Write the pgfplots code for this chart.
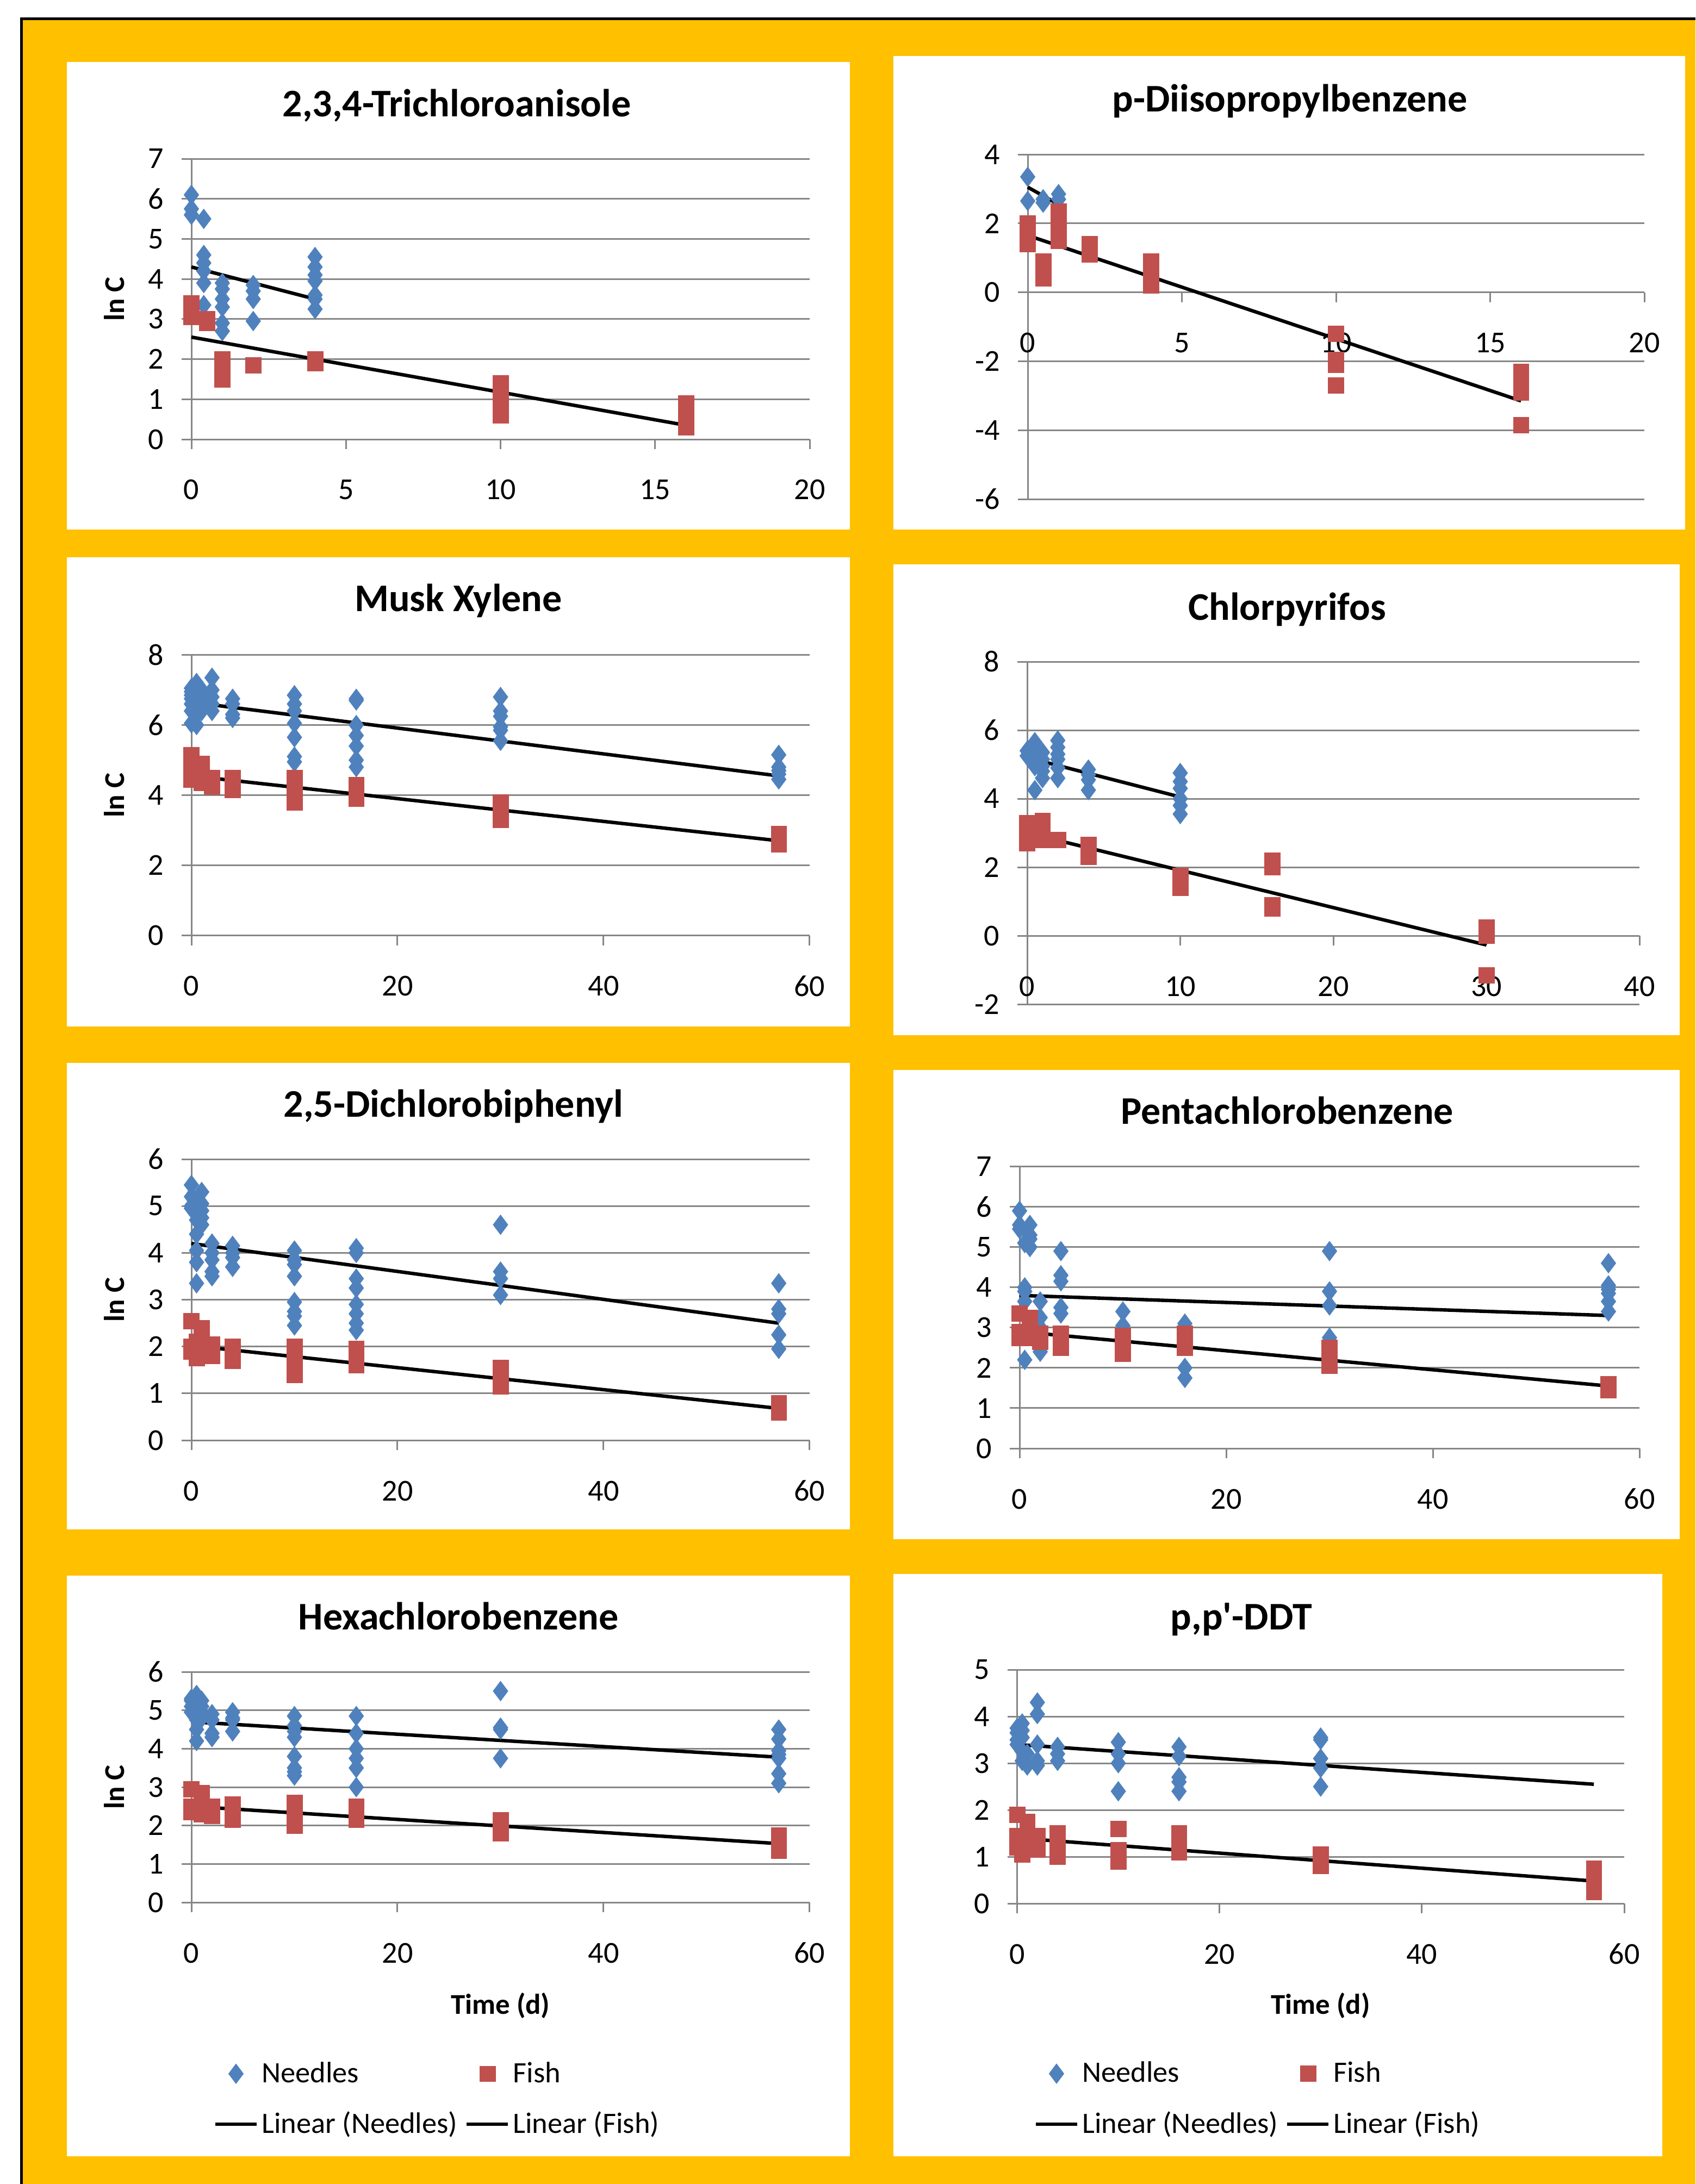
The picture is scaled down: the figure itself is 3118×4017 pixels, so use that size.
\documentclass[border=0pt]{standalone}
\usepackage{fontspec}
\setmainfont{Carlito}
\usepackage{pgfplots}
\pgfplotsset{compat=1.18}
\definecolor{excelorange}{HTML}{FFC000}
\definecolor{needle}{HTML}{4F81BD}
\definecolor{fish}{HTML}{C0504D}
\definecolor{gridgray}{HTML}{868686}
\newcommand\ticksize{\fontsize{14}{16.8}\selectfont}
\newcommand\titlesize{\bfseries\fontsize{18}{21.6}\selectfont}
\newcommand\labsize{\bfseries\fontsize{13.2}{15.8}\selectfont}
\newcommand\legsize{\fontsize{13.6}{16.3}\selectfont}
\pgfplotsset{
  excel/.style={
    scale only axis, anchor=south west,
    axis x line*=middle, axis y line*=left,
    axis line style={draw=gridgray, line width=0.75pt},
    ymajorgrids, grid style={draw=gridgray, line width=0.75pt},
    tick align=outside, major tick length=4.5pt, minor tick num=0,
    tick style={draw=gridgray, line width=0.75pt},
    hide obscured x ticks=false, hide obscured y ticks=false,
    tick label style={font=\ticksize, inner sep=0pt},
    /pgf/number format/assume math mode=true,
    xticklabel style={anchor=center, yshift=-18.75pt},
    yticklabel style={anchor=east, xshift=-8pt},
    clip=false, xmin=0,
  },
  nd/.style={only marks, mark=diamond*, mark size=4.6pt, color=needle, mark options={line width=0.1pt},
    legend image code/.code={\path (0pt,-1pt) (19pt,1pt); \draw[##1] plot coordinates {(9.5pt,0pt)};}},
  fs/.style={only marks, mark=square*, mark size=3.6pt, color=fish, mark options={line width=0.1pt},
    legend image code/.code={\path (0pt,-1pt) (19pt,1pt); \draw[##1] plot coordinates {(9.5pt,0pt)};}},
  fit/.style={black, line width=1.6pt, no marks,
    legend image code/.code={\draw[##1] (0pt,0pt) -- (19pt,0pt);}},
  leftpanel/.style={ylabel={ln C}, ylabel style={font=\labsize, at={(axis description cs:-0.125,0.5)}, anchor=center}},
  legpanel/.style 2 args={
    xlabel={Time (d)}, xlabel style={font=\labsize, at={(axis description cs:0.5,#2)}, anchor=center},
    legend columns=2, legend cell align=left,
    legend style={draw=none, fill=none, at={(axis description cs:#1)}, anchor=west, font=\legsize,
      inner sep=0pt, nodes={inner sep=0pt}, column sep=1.5pt, row sep=12pt,
      /tikz/every even column/.append style={column sep=3.5pt}}},
}
\begin{document}
\begin{tikzpicture}
\begin{scope}[x=0.25pt,y=-0.25pt]
\useasboundingbox (0,0) rectangle (3118,4017);
\fill[white] (0,0) rectangle (3118,4017);
\fill[excelorange] (39.5,34.5) rectangle (3118,4017);
\draw[black, line width=1.25pt] (39.5,4017) -- (39.5,34.5) -- (3118,34.5);
\fill[white] (123,114) rectangle (1563,974);
\fill[white] (1643,103) rectangle (3099,974);
\fill[white] (123,1025) rectangle (1563,1888);
\fill[white] (1643,1038) rectangle (3089,1904);
\fill[white] (123,1955) rectangle (1563,2813);
\fill[white] (1643,1968) rectangle (3089,2831);
\fill[white] (123,2898) rectangle (1563,3966);
\fill[white] (1643,2895) rectangle (3057,3966);
\end{scope}

% Panel 1: 2,3,4-Trichloroanisole
\begin{axis}[excel, leftpanel, at={(88pt,-202pt)}, width=284.25pt, height=129pt,
  xmax=20, ymin=0, ymax=7, xtick={0,5,10,15,20}, ytick={0,1,...,7}]
\addplot[nd] coordinates {(0,6.1)(0,5.75)(0,5.6)
(0.4,5.5)(0.4,4.6)(0.4,4.4)(0.4,4.2)(0.4,3.9)(0.4,3.35)
(1,3.9)(1,3.75)(1,3.5)(1,3.3)(1,2.9)(1,2.7)
(2,3.85)(2,3.7)(2,3.5)(2,2.95)
(4,4.55)(4,4.3)(4,4.1)(4,3.95)(4,3.6)(4,3.5)(4,3.25)};
\addplot[fs] coordinates {(0,3.4)(0,3.3)(0,3.15)(0,3.05)
(0.5,3.0)(0.5,2.9)
(1,2.0)(1,1.8)(1,1.6)(1,1.5)
(2,1.85)
(4,2.0)(4,1.9)
(10,1.4)(10,1.2)(10,1.0)(10,0.8)(10,0.6)
(16,0.9)(16,0.7)(16,0.5)(16,0.3)};
\addplot[fit] coordinates {(0,4.3)(4,3.5)};
\addplot[fit] coordinates {(0,2.55)(16,0.35)};
\end{axis}

% Panel 2: p-Diisopropylbenzene
\begin{axis}[excel, at={(472.5pt,-229.5pt)}, width=283.5pt, height=158.5pt,
  xmax=20, ymin=-6, ymax=4, xtick={0,5,10,15,20}, ytick={-6,-4,...,4}]
\addplot[nd] coordinates {(0,3.35)(0,2.65)(0.5,2.7)(0.5,2.6)(1,2.85)(1,2.7)};
\addplot[fs] coordinates {(0,2.0)(0,1.8)(0,1.6)(0,1.4)
(0.5,0.9)(0.5,0.7)(0.5,0.5)(0.5,0.4)
(1,2.35)(1,2.1)(1,1.9)(1,1.7)(1,1.5)
(2,1.4)(2,1.25)(2,1.1)
(4,0.9)(4,0.7)(4,0.5)(4,0.3)(4,0.2)
(10,-1.2)(10,-1.95)(10,-2.1)(10,-2.7)
(16,-2.3)(16,-2.5)(16,-2.7)(16,-2.9)(16,-3.85)};
\addplot[fit] coordinates {(0,3.05)(1,2.55)};
\addplot[fit] coordinates {(0,1.65)(16,-3.15)};
\end{axis}

% Panel 3: Musk Xylene
\begin{axis}[excel, leftpanel, at={(88pt,-430.125pt)}, width=284.25pt, height=129pt,
  xmax=60, ymin=0, ymax=8, xtick={0,20,40,60}, ytick={0,2,...,8}]
\addplot[nd] coordinates {(0,7.05)(0,6.95)(0,6.85)(0,6.75)(0,6.6)(0,6.4)(0,6.05)
(0.5,7.2)(0.5,7.1)(0.5,6.9)(0.5,6.5)(0.5,6.3)(0.5,6.0)
(1,7.0)(1,6.8)(1,6.6)(1,6.4)
(2,7.35)(2,7.0)(2,6.8)(2,6.6)(2,6.4)
(4,6.75)(4,6.6)(4,6.3)(4,6.2)
(10,6.85)(10,6.6)(10,6.4)(10,6.05)(10,5.65)(10,5.1)(10,4.95)
(16,6.75)(16,6.7)(16,6.0)(16,5.7)(16,5.4)(16,5.0)(16,4.8)
(30,6.8)(30,6.4)(30,6.25)(30,5.95)(30,5.85)(30,5.55)
(57,5.15)(57,4.8)(57,4.7)(57,4.6)(57,4.45)};
\addplot[fs] coordinates {(0,5.15)(0,4.9)(0,4.6)(0,4.45)
(1,4.9)(1,4.7)(1,4.5)(1,4.35)
(2,4.5)(2,4.35)(2,4.25)
(4,4.5)(4,4.3)(4,4.15)
(10,4.5)(10,4.3)(10,4.1)(10,3.95)(10,3.8)
(16,4.3)(16,4.1)(16,3.9)
(30,3.8)(30,3.55)(30,3.3)
(57,2.9)(57,2.75)(57,2.6)};
\addplot[fit] coordinates {(0,6.65)(57,4.55)};
\addplot[fit] coordinates {(0,4.55)(57,2.7)};
\end{axis}

% Panel 4: Chlorpyrifos
\begin{axis}[excel, at={(472.25pt,-461.75pt)}, width=281.5pt, height=157.5pt,
  xmax=40, ymin=-2, ymax=8, xtick={0,10,20,30,40}, ytick={-2,0,...,8}]
\addplot[nd] coordinates {(0,5.4)(0,5.25)
(0.5,5.65)(0.5,5.5)(0.5,5.3)(0.5,5.1)(0.5,4.95)(0.5,4.25)
(1,5.35)(1,5.15)(1,4.95)(1,4.8)(1,4.6)
(2,5.7)(2,5.5)(2,5.3)(2,5.15)(2,4.9)(2,4.6)
(4,4.85)(4,4.7)(4,4.55)(4,4.25)
(10,4.75)(10,4.5)(10,4.3)(10,4.0)(10,3.8)(10,3.55)};
\addplot[fs] coordinates {(0,3.3)(0,3.1)(0,2.9)(0,2.7)
(1,3.35)(1,3.2)(1,3.0)(1,2.8)
(2,2.8)
(4,2.65)(4,2.45)(4,2.3)
(10,1.75)(10,1.55)(10,1.4)
(16,2.2)(16,2.0)(16,0.9)(16,0.8)
(30,0.25)(30,0.0)(30,-1.15)};
\addplot[fit] coordinates {(0,5.2)(10,4.05)};
\addplot[fit] coordinates {(0,3.0)(30,-0.27)};
\end{axis}

% Panel 5: 2,5-Dichlorobiphenyl
\begin{axis}[excel, leftpanel, at={(88pt,-662.25pt)}, width=284.25pt, height=129.25pt,
  xmax=60, ymin=0, ymax=6, xtick={0,20,40,60}, ytick={0,1,...,6}]
\addplot[nd] coordinates {(0,5.45)(0,5.2)(0,5.0)(0,4.95)
(0.5,5.1)(0.5,4.7)(0.5,4.4)(0.5,4.05)(0.5,3.8)(0.5,3.35)
(1,5.3)(1,5.05)(1,4.9)(1,4.75)(1,4.6)
(2,4.2)(2,4.0)(2,3.85)(2,3.6)(2,3.5)
(4,4.15)(4,4.0)(4,3.9)(4,3.7)
(10,4.05)(10,3.85)(10,3.75)(10,3.5)(10,2.95)(10,2.75)(10,2.65)(10,2.45)
(16,4.1)(16,4.0)(16,3.45)(16,3.25)(16,2.9)(16,2.7)(16,2.5)(16,2.35)
(30,4.6)(30,3.6)(30,3.45)(30,3.1)
(57,3.35)(57,2.8)(57,2.7)(57,2.25)(57,1.95)};
\addplot[fs] coordinates {(0,2.55)(0,2.0)(0,1.9)
(0.5,2.1)(0.5,1.9)(0.5,1.75)
(1,2.4)(1,2.2)(1,2.1)
(2,2.05)(2,1.9)(2,1.8)
(4,2.0)(4,1.85)(4,1.7)
(10,2.0)(10,1.65)(10,1.5)(10,1.4)
(16,1.95)(16,1.8)(16,1.6)
(30,1.55)(30,1.35)(30,1.15)
(57,0.8)(57,0.65)(57,0.6)};
\addplot[fit] coordinates {(0,4.2)(57,2.5)};
\addplot[fit] coordinates {(0,2.02)(57,0.68)};
\end{axis}

% Panel 6: Pentachlorobenzene
\begin{axis}[excel, at={(468.75pt,-666pt)}, width=285pt, height=129.6pt,
  xmax=60, ymin=0, ymax=7, xtick={0,20,40,60}, ytick={0,1,...,7}]
\addplot[nd] coordinates {(0,5.9)(0,5.55)(0,5.45)
(0.5,5.1)(0.5,4.0)(0.5,3.9)(0.5,3.65)(0.5,2.2)
(1,5.55)(1,5.3)(1,5.2)(1,5.0)
(2,3.65)(2,3.25)(2,3.0)(2,2.4)
(4,4.9)(4,4.3)(4,4.15)(4,3.5)(4,3.35)
(10,3.4)(10,3.05)
(16,3.1)(16,2.0)(16,1.75)
(30,4.9)(30,3.9)(30,3.55)(30,2.75)
(57,4.6)(57,4.05)(57,3.95)(57,3.85)(57,3.65)(57,3.4)};
\addplot[fs] coordinates {(0,3.35)(0,2.9)(0,2.75)
(1,3.25)(1,3.0)(1,2.75)
(2,2.85)(2,2.65)
(4,2.85)(4,2.7)(4,2.5)
(10,2.8)(10,2.55)(10,2.35)
(16,2.85)(16,2.65)(16,2.5)
(30,2.5)(30,2.25)(30,2.05)
(57,1.6)(57,1.45)};
\addplot[fit] coordinates {(0,3.8)(57,3.3)};
\addplot[fit] coordinates {(0,2.9)(57,1.55)};
\end{axis}

% Panel 7: Hexachlorobenzene
\begin{axis}[excel, leftpanel, legpanel={0.0352,-0.854}{-0.448}, at={(88pt,-874.75pt)}, width=284.25pt, height=106pt,
  xmax=60, ymin=0, ymax=6, xtick={0,20,40,60}, ytick={0,1,...,6}]
\addplot[nd] coordinates {(0,5.3)(0,5.25)(0,5.1)(0,4.95)
(0.5,5.4)(0.5,4.9)(0.5,4.75)(0.5,4.5)(0.5,4.2)
(1,5.25)(1,5.1)(1,4.95)(1,4.8)
(2,4.9)(2,4.75)(2,4.4)(2,4.3)
(4,4.95)(4,4.8)(4,4.75)(4,4.45)
(10,4.85)(10,4.6)(10,4.45)(10,4.3)(10,3.8)(10,3.5)(10,3.4)(10,3.3)
(16,4.85)(16,4.4)(16,4.0)(16,3.75)(16,3.5)(16,3.0)
(30,5.5)(30,4.55)(30,4.5)(30,3.75)
(57,4.5)(57,4.25)(57,3.95)(57,3.85)(57,3.75)(57,3.35)(57,3.1)};
\addlegendentry{Needles}
\addplot[fs] coordinates {(0,2.95)(0,2.5)(0,2.35)
(1,2.85)(1,2.6)(1,2.4)(1,2.3)
(2,2.5)(2,2.35)(2,2.25)
(4,2.55)(4,2.35)(4,2.15)
(10,2.6)(10,2.4)(10,2.2)(10,2.0)
(16,2.5)(16,2.3)(16,2.15)
(30,2.15)(30,1.95)(30,1.8)
(57,1.75)(57,1.55)(57,1.35)};
\addlegendentry{Fish}
\addplot[fit] coordinates {(0,4.7)(57,3.78)};
\addlegendentry{Linear (Needles)}
\addplot[fit] coordinates {(0,2.5)(57,1.53)};
\addlegendentry{Linear (Fish)}
\end{axis}

% Panel 8: p,p'-DDT
\begin{axis}[excel, legpanel={0.0273,-0.837}{-0.437}, at={(467.625pt,-875.25pt)}, width=279.125pt, height=107.5pt,
  xmax=60, ymin=0, ymax=5, xtick={0,20,40,60}, ytick={0,1,...,5}]
\addplot[nd] coordinates {(0,3.75)(0,3.65)(0,3.5)(0,3.4)
(0.5,3.85)(0.5,3.7)(0.5,3.55)(0.5,3.25)(0.5,3.05)
(1,3.2)(1,2.95)
(2,4.3)(2,4.05)(2,3.4)(2,3.05)(2,2.95)
(4,3.35)(4,3.2)(4,3.05)
(10,3.45)(10,3.2)(10,3.0)(10,2.4)
(16,3.35)(16,3.15)(16,2.7)(16,2.6)(16,2.4)
(30,3.55)(30,3.5)(30,3.1)(30,2.9)(30,2.5)};
\addlegendentry{Needles}
\addplot[fs] coordinates {(0,1.9)(0,1.45)(0,1.3)(0,1.2)
(0.5,1.05)
(1,1.75)(1,1.55)(1,1.35)
(2,1.45)(2,1.3)(2,1.15)
(4,1.5)(4,1.3)(4,1.15)(4,1.0)
(10,1.6)(10,1.15)(10,1.0)(10,0.9)
(16,1.5)(16,1.3)(16,1.1)
(30,1.05)(30,0.9)(30,0.8)
(57,0.75)(57,0.55)(57,0.4)(57,0.25)};
\addlegendentry{Fish}
\addplot[fit] coordinates {(0,3.4)(57,2.55)};
\addlegendentry{Linear (Needles)}
\addplot[fit] coordinates {(0,1.4)(57,0.48)};
\addlegendentry{Linear (Fish)}
\end{axis}

\begin{scope}[x=0.25pt,y=-0.25pt]
\node[anchor=base, font=\titlesize, inner sep=0pt] at (840,214) {2,3,4-Trichloroanisole};
\node[anchor=base, font=\titlesize, inner sep=0pt] at (2372,205) {p-Diisopropylbenzene};
\node[anchor=base, font=\titlesize, inner sep=0pt] at (843,1124.7) {Musk Xylene};
\node[anchor=base, font=\titlesize, inner sep=0pt] at (2367,1140) {Chlorpyrifos};
\node[anchor=base, font=\titlesize, inner sep=0pt] at (834,2054.7) {2,5-Dichlorobiphenyl};
\node[anchor=base, font=\titlesize, inner sep=0pt] at (2367,2067.5) {Pentachlorobenzene};
\node[anchor=base, font=\titlesize, inner sep=0pt] at (843,2997.5) {Hexachlorobenzene};
\node[anchor=base, font=\titlesize, inner sep=0pt] at (2283,2997.5) {p,p\textquotesingle-DDT};
\end{scope}
\end{tikzpicture}
\end{document}
